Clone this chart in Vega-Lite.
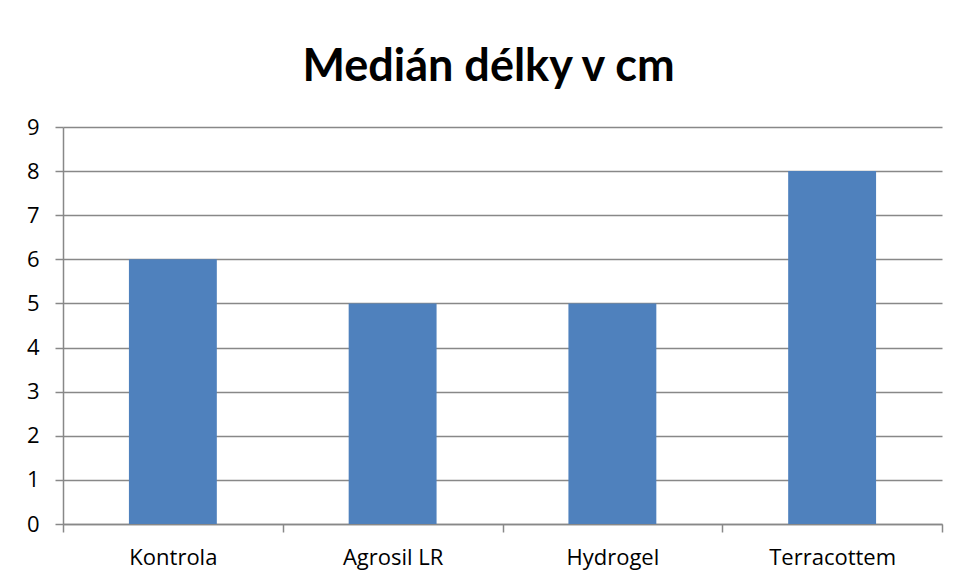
{
  "$schema": "https://vega.github.io/schema/vega-lite/v6.json",
  "width": 879,
  "height": 397,
  "autosize": "none",
  "padding": {"left": 63, "top": 127, "right": 18, "bottom": 58},
  "background": "white",
  "title": {
    "text": "Medián délky v cm",
    "font": "Lato",
    "fontSize": 45,
    "fontWeight": "bold",
    "color": "black",
    "anchor": "middle",
    "dx": -14,
    "offset": 26
  },
  "data": {
    "values": [
      {"skupina": "Kontrola", "median": 6},
      {"skupina": "Agrosil LR", "median": 5},
      {"skupina": "Hydrogel", "median": 5},
      {"skupina": "Terracottem", "median": 8}
    ]
  },
  "mark": {"type": "bar", "color": "#4F81BD", "width": {"band": 0.4}},
  "encoding": {
    "x": {
      "field": "skupina",
      "type": "nominal",
      "sort": null,
      "scale": {"paddingInner": 0, "paddingOuter": 0},
      "axis": {
        "title": null,
        "labelAngle": 0,
        "labelFont": "Open Sans",
        "labelFontSize": 22,
        "labelColor": "black",
        "labelPadding": 15,
        "domain": true,
        "domainColor": "#888888",
        "domainWidth": 1.5,
        "ticks": true,
        "tickBand": "extent",
        "tickSize": 8,
        "tickColor": "#888888",
        "tickWidth": 1.5,
        "grid": false
      }
    },
    "y": {
      "field": "median",
      "type": "quantitative",
      "scale": {"domain": [0, 9], "nice": false},
      "axis": {
        "title": null,
        "values": [0, 1, 2, 3, 4, 5, 6, 7, 8, 9],
        "labelFont": "Open Sans",
        "labelFontSize": 22,
        "labelColor": "black",
        "labelPadding": 16,
        "domain": true,
        "domainColor": "#888888",
        "domainWidth": 1.5,
        "ticks": true,
        "tickSize": 8,
        "tickColor": "#888888",
        "tickWidth": 1.5,
        "grid": true,
        "gridColor": "#888888",
        "gridWidth": 1.5,
        "gridOpacity": 1
      }
    }
  },
  "config": {"view": {"stroke": null}}
}
